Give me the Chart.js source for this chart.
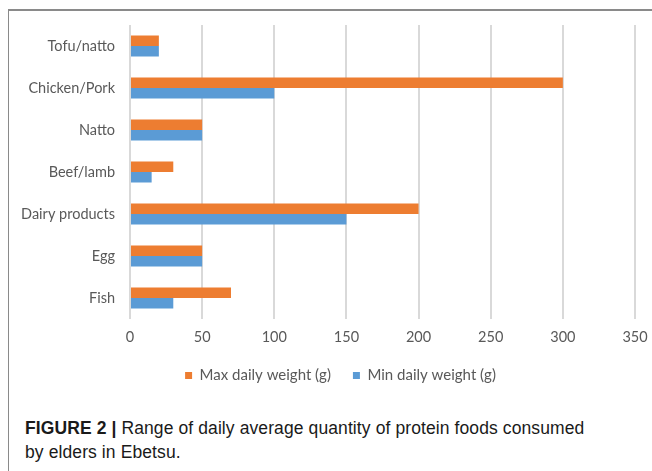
<!DOCTYPE html>
<html>
<head>
<meta charset="utf-8">
<script src="https://cdn.jsdelivr.net/npm/chart.js@4"></script>
<style>
  html, body { margin: 0; padding: 0; background: #fff; }
  body { width: 652px; height: 471px; position: relative; overflow: hidden; }
  .frame { position: absolute; left: 8px; top: 9px; width: 700px; height: 500px;
           border-top: 2px solid #8a8a8a; border-left: 1px solid #8a8a8a; }
  #wrap { position: absolute; left: 0; top: 0; width: 652px; height: 393px; }
  .caption { position: absolute; left: 25px; top: 416px; font-family: "Liberation Sans", Arial, sans-serif;
             font-size: 17.5px; line-height: 24px; color: #1a1a1a; letter-spacing: 0.1px; }
  .caption b { font-weight: bold; }
</style>
</head>
<body>
<div class="frame"></div>
<div id="wrap"><canvas id="chart"></canvas></div>
<div class="caption"><b>FIGURE 2 |</b> Range of daily average quantity of protein foods consumed<br>by elders in Ebetsu.</div>
<script>
// Protein food categories, top to bottom
const categories = ["Tofu/natto", "Chicken/Pork", "Natto", "Beef/lamb", "Dairy products", "Egg", "Fish"];
// Daily weights in grams
const maxDaily = [20, 300, 50, 30, 200, 50, 70];
const minDaily = [20, 100, 50, 15, 150, 50, 30];
const seriesNames = ["Max daily weight (g)", "Min daily weight (g)"];
const xTicks = [0, 50, 100, 150, 200, 250, 300, 350];

const labelFont = { family: "Lato, 'Open Sans', sans-serif", size: 14.5 };

// Nudges the legend row sideways so it sits centred under the framed figure
const legendShift = {
  id: "legendShift",
  afterLayout(chart) {
    const lg = chart.legend;
    if (lg) { lg.left += 23; lg.right += 23; }
  }
};

new Chart(document.getElementById("chart"), {
  type: "bar",
  data: {
    labels: categories,
    datasets: [
      { label: seriesNames[0], data: maxDaily, backgroundColor: "#ED7D31" },
      { label: seriesNames[1], data: minDaily, backgroundColor: "#5B9BD5" }
    ]
  },
  options: {
    indexAxis: "y",
    responsive: true,
    maintainAspectRatio: false,
    animation: false,
    categoryPercentage: 0.5,
    barPercentage: 1.0,
    layout: { padding: { top: 25, right: 17, left: 0, bottom: 0 } },
    scales: {
      x: {
        min: xTicks[0],
        max: xTicks[xTicks.length - 1],
        afterBuildTicks: (s) => { s.ticks = xTicks.map(v => ({ value: v })); },
        grid: { color: "#D9D9D9", lineWidth: 2, drawTicks: false },
        border: { display: false },
        ticks: { color: "#595959", font: labelFont, padding: 10 },
        afterFit: (s) => { s.height = 27; s.paddingLeft = 0; s.paddingRight = 0; }
      },
      y: {
        grid: { display: false, drawTicks: false },
        border: { display: false },
        ticks: { color: "#595959", font: labelFont, padding: 15 },
        afterFit: (s) => { s.width = 130; }
      }
    },
    plugins: {
      legend: {
        position: "bottom",
        labels: { color: "#595959", font: { family: labelFont.family, size: 15 }, boxWidth: 7, boxHeight: 7, padding: 22 }
      },
      tooltip: { enabled: false }
    }
  },
  plugins: [legendShift]
});
</script>
</body>
</html>
